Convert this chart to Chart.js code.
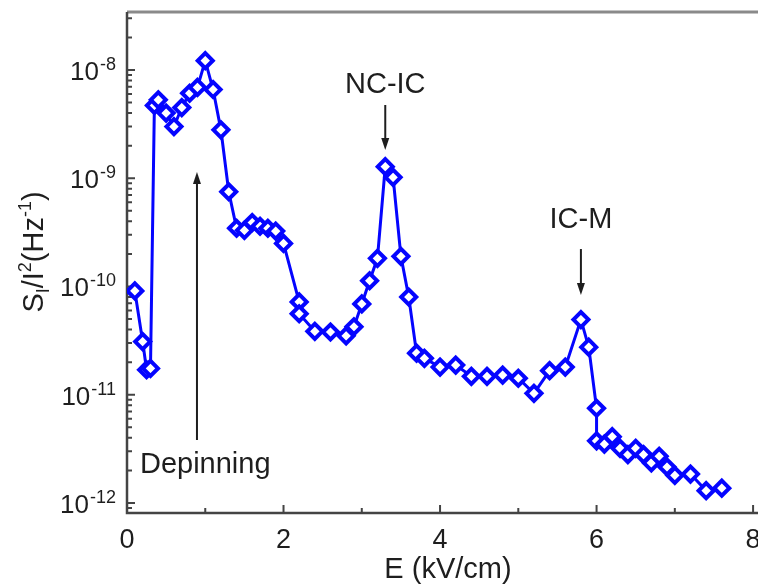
<!DOCTYPE html>
<html>
<head>
<meta charset="utf-8">
<script src="https://cdn.jsdelivr.net/npm/chart.js@4.4.1/dist/chart.umd.min.js"></script>
<style>
  html, body { margin: 0; padding: 0; background: #fff; overflow: hidden; }
  #wrap { width: 770px; height: 586px; }
</style>
</head>
<body>
<div id="wrap"><canvas id="noise-chart" width="770" height="586"></canvas></div>
<script>
// Field values (kV/cm) and normalised noise S_I/I^2 (Hz^-1)
const fieldE = [0.1, 0.2, 0.25, 0.3, 0.35, 0.4, 0.5, 0.6, 0.7, 0.8, 0.9, 1.0, 1.1, 1.2, 1.3, 1.4,
  1.5, 1.6, 1.7, 1.8, 1.9, 2.0, 2.2, 2.2, 2.4, 2.6, 2.8, 2.9, 3.0, 3.1, 3.2, 3.3, 3.4, 3.5, 3.6,
  3.7, 3.8, 4.0, 4.2, 4.4, 4.6, 4.8, 5.0, 5.2, 5.4, 5.6, 5.8, 5.9, 6.0, 6.0, 6.1, 6.2, 6.3, 6.4,
  6.5, 6.6, 6.7, 6.8, 6.9, 7.0, 7.2, 7.4, 7.6];
const noise = [9.1e-11, 3.1e-11, 1.7e-11, 1.75e-11, 4.7e-9, 5.3e-9, 4.0e-9, 3.0e-9, 4.5e-9, 6.1e-9,
  6.9e-9, 1.22e-8, 6.6e-9, 2.8e-9, 7.5e-10, 3.45e-10, 3.3e-10, 3.9e-10, 3.6e-10, 3.45e-10, 3.25e-10,
  2.5e-10, 7.2e-11, 5.6e-11, 3.85e-11, 3.8e-11, 3.5e-11, 4.25e-11, 6.9e-11, 1.13e-10, 1.82e-10,
  1.28e-9, 1.02e-9, 1.9e-10, 8.0e-11, 2.42e-11, 2.17e-11, 1.8e-11, 1.88e-11, 1.48e-11, 1.48e-11,
  1.52e-11, 1.42e-11, 1.03e-11, 1.67e-11, 1.8e-11, 4.95e-11, 2.75e-11, 7.5e-12, 3.75e-12, 3.5e-12,
  4.1e-12, 3.2e-12, 2.8e-12, 3.2e-12, 2.8e-12, 2.35e-12, 2.7e-12, 2.15e-12, 1.8e-12, 1.85e-12,
  1.3e-12, 1.37e-12];

const xTicks = [0, 2, 4, 6, 8];
const xMinorTicks = [1, 3, 5, 7];
const yExponents = [-8, -9, -10, -11, -12];

// text annotations (anchor in data units)
const notes = [
  { text: "NC-IC", x: 3.3, y: Math.pow(10, -8.2125), arrowX: 3.3, from: Math.pow(10, -8.323), to: Math.pow(10, -8.739) },
  { text: "IC-M", x: 5.8, y: Math.pow(10, -9.46), arrowX: 5.8, from: Math.pow(10, -9.654), to: Math.pow(10, -10.079) },
  { text: "Depinning", x: 1.0, y: Math.pow(10, -11.723), arrowX: 0.894, from: Math.pow(10, -11.418), to: Math.pow(10, -8.942) }
];

const FONT = "'Liberation Sans', Arial, sans-serif";

function drawArrow(ctx, x, y1, y2) {
  const dir = y2 > y1 ? 1 : -1;
  const head = 12;
  ctx.beginPath();
  ctx.moveTo(x, y1);
  ctx.lineTo(x, y2 - dir * head);
  ctx.stroke();
  ctx.beginPath();
  ctx.moveTo(x, y2);
  ctx.lineTo(x - 4, y2 - dir * head);
  ctx.lineTo(x + 4, y2 - dir * head);
  ctx.closePath();
  ctx.fill();
}

const framePlugin = {
  id: "frame",
  beforeDatasetsDraw(chart) {
    const { ctx, chartArea: a, scales } = chart;
    const xs = scales.x, ys = scales.y;
    ctx.save();
    // top border
    ctx.strokeStyle = "#8a8a8a";
    ctx.lineWidth = 3;
    ctx.beginPath();
    ctx.moveTo(a.left, a.top);
    ctx.lineTo(a.right + 20, a.top);
    ctx.stroke();
    // left + bottom axes
    ctx.strokeStyle = "#444";
    ctx.lineWidth = 2.5;
    ctx.beginPath();
    ctx.moveTo(a.left, a.top);
    ctx.lineTo(a.left, a.bottom);
    ctx.lineTo(a.right + 20, a.bottom);
    ctx.stroke();

    // ticks
    ctx.lineWidth = 2;
    ctx.beginPath();
    xTicks.forEach(v => {
      const px = xs.getPixelForValue(v);
      ctx.moveTo(px, a.bottom); ctx.lineTo(px, a.bottom - 8);
    });
    xMinorTicks.forEach(v => {
      const px = xs.getPixelForValue(v);
      ctx.moveTo(px, a.bottom); ctx.lineTo(px, a.bottom - 5);
    });
    yExponents.forEach(e => {
      const py = ys.getPixelForValue(Math.pow(10, e));
      ctx.moveTo(a.left, py); ctx.lineTo(a.left + 8, py);
    });
    for (let e = -13; e <= -8; e++) {
      for (let m = 2; m <= 9; m++) {
        const v = m * Math.pow(10, e);
        if (v < ys.min || v > ys.max) continue;
        const py = ys.getPixelForValue(v);
        ctx.moveTo(a.left, py); ctx.lineTo(a.left + 5, py);
      }
    }
    ctx.stroke();
    ctx.restore();
  },
  afterDraw(chart) {
    const { ctx, chartArea: a, scales } = chart;
    const xs = scales.x, ys = scales.y;
    ctx.save();
    ctx.fillStyle = "#1e1e1e";
    ctx.strokeStyle = "#1e1e1e";

    // x tick labels
    ctx.font = "27px " + FONT;
    ctx.textAlign = "center";
    ctx.textBaseline = "alphabetic";
    xTicks.forEach(v => ctx.fillText(String(v), xs.getPixelForValue(v), 548));

    // y tick labels 10^e
    yExponents.forEach(e => {
      const py = ys.getPixelForValue(Math.pow(10, e));
      const expText = "-" + Math.abs(e);
      ctx.font = "18px " + FONT;
      ctx.textAlign = "right";
      ctx.fillText(expText, 116, py);
      const ew = ctx.measureText(expText).width;
      ctx.font = "26px " + FONT;
      ctx.fillText("10", 116 - ew - 1, py + 10);
    });

    // x title
    ctx.font = "29px " + FONT;
    ctx.textAlign = "center";
    ctx.fillText("E (kV/cm)", 448, 578);

    // y title, rotated, with sub/superscripts
    const parts = [
      { t: "S", size: 29, dy: 0 },
      { t: "I", size: 18, dy: 6 },
      { t: "/I", size: 29, dy: 0 },
      { t: "2", size: 18, dy: -12 },
      { t: "(Hz", size: 29, dy: 0 },
      { t: "-1", size: 18, dy: -12 },
      { t: ")", size: 29, dy: 0 }
    ];
    let total = 0;
    parts.forEach(p => { ctx.font = p.size + "px " + FONT; p.w = ctx.measureText(p.t).width; total += p.w; });
    ctx.translate(43, 252);
    ctx.rotate(-Math.PI / 2);
    ctx.textAlign = "left";
    let cx = -total / 2;
    parts.forEach(p => {
      ctx.font = p.size + "px " + FONT;
      ctx.fillText(p.t, cx, p.dy);
      cx += p.w;
    });
    ctx.setTransform(1, 0, 0, 1, 0, 0);

    // annotations
    ctx.font = "29px " + FONT;
    ctx.textAlign = "center";
    ctx.lineWidth = 2;
    notes.forEach(n => {
      ctx.fillText(n.text, xs.getPixelForValue(n.x), ys.getPixelForValue(n.y));
      drawArrow(ctx, xs.getPixelForValue(n.arrowX), ys.getPixelForValue(n.from), ys.getPixelForValue(n.to));
    });
    ctx.restore();
  }
};

const points = fieldE.map((e, i) => ({ x: e, y: noise[i] }));

new Chart(document.getElementById("noise-chart").getContext("2d"), {
  type: "scatter",
  data: {
    datasets: [{
      data: points,
      showLine: true,
      borderColor: "#0505ff",
      borderWidth: 3,
      tension: 0,
      pointStyle: "rectRot",
      pointRadius: 7.5,
      pointBorderWidth: 4,
      pointBackgroundColor: "#ffffff",
      pointBorderColor: "#0505ff"
    }]
  },
  options: {
    responsive: false,
    animation: false,
    devicePixelRatio: 1,
    layout: { padding: { left: 127, top: 12, right: 13, bottom: 73 } },
    plugins: { legend: { display: false }, tooltip: { enabled: false } },
    scales: {
      x: { type: "linear", display: false, min: 0, max: 8.05 },
      y: { type: "logarithmic", display: false, min: 8.08e-13, max: 3.435e-8 }
    }
  },
  plugins: [framePlugin]
});
</script>
</body>
</html>
